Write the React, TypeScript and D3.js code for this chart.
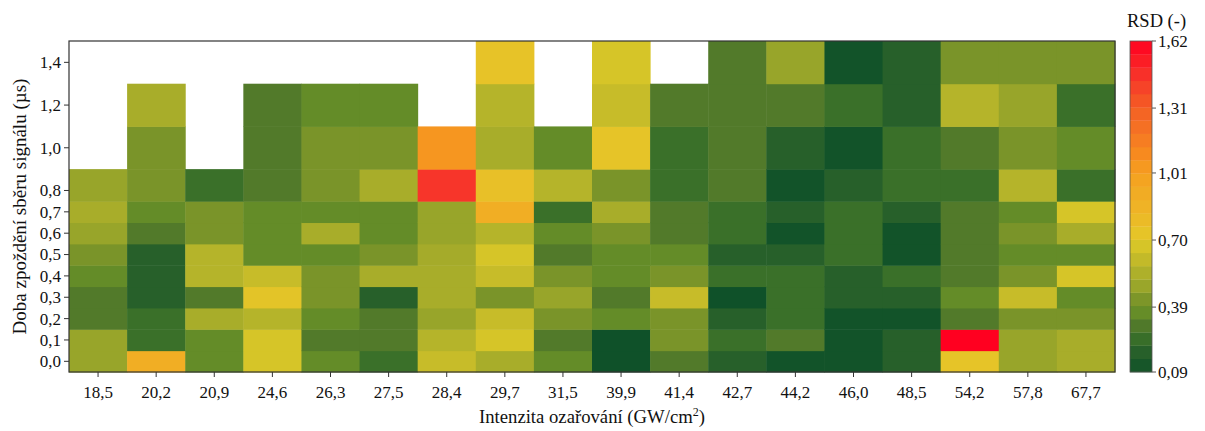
import React from "react";
import * as d3 from "d3";

const xLabels = ["18,5", "20,2", "20,9", "24,6", "26,3", "27,5", "28,4", "29,7", "31,5", "39,9", "41,4", "42,7", "44,2", "46,0", "48,5", "54,2", "57,8", "67,7"];
const yValues = [0.0, 0.1, 0.2, 0.3, 0.4, 0.5, 0.6, 0.7, 0.8, 1.0, 1.2, 1.4];
const yTicks = [0.0, 0.1, 0.2, 0.3, 0.4, 0.5, 0.6, 0.7, 0.8, 1.0, 1.2, 1.4];
const cbTicks = [0.09, 0.39, 0.70, 1.01, 1.31, 1.62];

// RSD values per column, from delay 0.0 up to 1.4 (null = no measurement)
const col18_5 = [0.48, 0.48, 0.31, 0.31, 0.36, 0.42, 0.48, 0.53, 0.48, null, null, null];
const col20_2 = [0.90, 0.25, 0.25, 0.18, 0.18, 0.18, 0.31, 0.36, 0.42, 0.42, 0.53, null];
const col20_9 = [0.36, 0.36, 0.53, 0.31, 0.57, 0.57, 0.42, 0.42, 0.25, null, null, null];
const col24_6 = [0.67, 0.67, 0.57, 0.72, 0.62, 0.36, 0.36, 0.36, 0.31, 0.31, 0.31, null];
const col26_3 = [0.36, 0.31, 0.36, 0.42, 0.42, 0.36, 0.53, 0.36, 0.42, 0.42, 0.36, null];
const col27_5 = [0.25, 0.31, 0.31, 0.18, 0.53, 0.42, 0.36, 0.36, 0.53, 0.42, 0.36, null];
const col28_4 = [0.62, 0.57, 0.48, 0.53, 0.53, 0.52, 0.48, 0.48, 1.45, 1.05, null, null];
const col29_7 = [0.53, 0.67, 0.62, 0.42, 0.62, 0.67, 0.57, 0.90, 0.76, 0.53, 0.57, 0.74];
const col31_5 = [0.36, 0.31, 0.42, 0.48, 0.42, 0.31, 0.36, 0.25, 0.57, 0.36, null, null];
const col39_9 = [0.09, 0.09, 0.36, 0.31, 0.36, 0.36, 0.42, 0.53, 0.42, 0.73, 0.62, 0.67];
const col41_4 = [0.31, 0.42, 0.42, 0.62, 0.42, 0.36, 0.31, 0.31, 0.25, 0.25, 0.31, null];
const col42_7 = [0.18, 0.25, 0.18, 0.09, 0.25, 0.18, 0.25, 0.25, 0.31, 0.31, 0.31, 0.31];
const col44_2 = [0.10, 0.31, 0.25, 0.25, 0.25, 0.18, 0.10, 0.18, 0.10, 0.18, 0.31, 0.48];
const col46_0 = [0.10, 0.10, 0.10, 0.18, 0.18, 0.25, 0.25, 0.25, 0.18, 0.10, 0.25, 0.10];
const col48_5 = [0.18, 0.18, 0.10, 0.18, 0.25, 0.10, 0.10, 0.18, 0.25, 0.25, 0.18, 0.18];
const col54_2 = [0.73, 1.62, 0.31, 0.36, 0.31, 0.31, 0.31, 0.31, 0.25, 0.31, 0.57, 0.42];
const col57_8 = [0.48, 0.48, 0.42, 0.62, 0.42, 0.36, 0.42, 0.36, 0.57, 0.42, 0.48, 0.42];
const col67_7 = [0.53, 0.53, 0.42, 0.36, 0.67, 0.36, 0.53, 0.67, 0.25, 0.36, 0.25, 0.42];

const columns = [col18_5, col20_2, col20_9, col24_6, col26_3, col27_5, col28_4, col29_7, col31_5, col39_9, col41_4, col42_7, col44_2, col46_0, col48_5, col54_2, col57_8, col67_7];

const colorStops: [number, string][] = [
  [0.09, "#0f5129"], [0.18, "#27602a"], [0.25, "#3a7029"], [0.31, "#527a2a"],
  [0.36, "#648c28"], [0.42, "#7a9429"], [0.48, "#98a52a"], [0.53, "#a8ad2a"],
  [0.57, "#b5b42a"], [0.62, "#c7bc29"], [0.67, "#d6c528"], [0.73, "#e6c428"],
  [0.85, "#efb426"], [1.01, "#f5a020"], [1.10, "#f78a1f"], [1.20, "#f57424"],
  [1.31, "#f46024"], [1.45, "#f7352a"], [1.62, "#ff0020"],
];

const W = 1205, H = 431;
const left = 69, right = 1115, top = 41, bottom = 372;
const FONT = "'Liberation Serif', 'Times New Roman', serif";

export default function App() {
  const color = d3.scaleLinear<string>()
    .domain(colorStops.map((s) => s[0]))
    .range(colorStops.map((s) => s[1]))
    .interpolate(d3.interpolateRgb)
    .clamp(true);

  const x = d3.scaleBand<string>().domain(xLabels).range([left, right]).padding(0);
  const y = d3.scaleLinear().domain([-0.05, 1.5]).range([bottom, top]);

  const rowBounds = yValues.map((v, i) => {
    const lo = i === 0 ? -0.05 : (v + yValues[i - 1]) / 2;
    const hi = i === yValues.length - 1 ? 1.5 : (v + yValues[i + 1]) / 2;
    return [lo, hi];
  });

  const cells: React.ReactNode[] = [];
  columns.forEach((col, ci) => {
    col.forEach((v, ri) => {
      if (v === null) return;
      const [lo, hi] = rowBounds[ri];
      cells.push(
        <rect key={`${ci}-${ri}`} x={x(xLabels[ci])!} y={y(hi)} width={x.bandwidth() + 0.5}
          height={y(lo) - y(hi) + 0.5} fill={color(v)} />
      );
    });
  });

  // colorbar
  const cbX = 1130, cbW = 22;
  const cbScale = d3.scaleLinear().domain([0.09, 1.62]).range([bottom, top]);
  const nBands = 25;
  const bandStep = (1.62 - 0.09) / nBands;
  const bands = d3.range(nBands).map((i) => {
    const lo = 0.09 + i * bandStep;
    const hi = lo + bandStep;
    return { lo, hi, c: color((lo + hi) / 2) };
  });

  const fmt = (v: number, d: number) => v.toFixed(d).replace(".", ",");

  return (
    <svg width={W} height={H} style={{ position: "absolute", left: 0, top: 0, background: "#fff" }}
      fontFamily={FONT}>
      <rect x={0} y={0} width={W} height={H} fill="#fff" />
      {cells}
      <rect x={left} y={top} width={right - left} height={bottom - top} fill="none" stroke="#333" strokeWidth={1.2} />
      {/* y axis */}
      {yTicks.map((t) => (
        <g key={`yt${t}`}>
          <line x1={left - 5} x2={left} y1={y(t)} y2={y(t)} stroke="#333" />
          <text x={left - 8} y={y(t)} dy="0.35em" textAnchor="end" fontSize={17} fill="#111">{fmt(t, 1)}</text>
        </g>
      ))}
      {/* x axis */}
      {xLabels.map((l) => {
        const cx = x(l)! + x.bandwidth() / 2;
        return (
          <g key={`xt${l}`}>
            <line x1={cx} x2={cx} y1={bottom} y2={bottom + 5} stroke="#333" />
            <text x={cx} y={bottom + 26} textAnchor="middle" fontSize={17} fill="#111">{l}</text>
          </g>
        );
      })}
      <text x={(left + right) / 2} y={423} textAnchor="middle" fontSize={18.7} fill="#111">
        Intenzita ozařování (GW/cm<tspan dy={-7} fontSize={12}>2</tspan><tspan dy={7}>)</tspan>
      </text>
      <text transform={`translate(26,${(top + bottom) / 2}) rotate(-90)`} textAnchor="middle" fontSize={19} fill="#111">
        Doba zpoždění sběru signálu (µs)
      </text>
      {/* colorbar */}
      {bands.map((b, i) => (
        <rect key={`cb${i}`} x={cbX} y={cbScale(b.hi)} width={cbW} height={cbScale(b.lo) - cbScale(b.hi) + 0.3} fill={b.c} />
      ))}
      <rect x={cbX} y={top} width={cbW} height={bottom - top} fill="none" stroke="#555" strokeWidth={0.8} />
      {cbTicks.map((t) => (
        <g key={`cbt${t}`}>
          <line x1={cbX + cbW} x2={cbX + cbW + 4} y1={cbScale(t)} y2={cbScale(t)} stroke="#555" />
          <text x={cbX + cbW + 6} y={cbScale(t)} dy="0.35em" fontSize={17} fill="#111">{fmt(t, 2)}</text>
        </g>
      ))}
      <text x={1127} y={27} textAnchor="start" fontSize={18.5} fill="#111">RSD (-)</text>
    </svg>
  );
}
